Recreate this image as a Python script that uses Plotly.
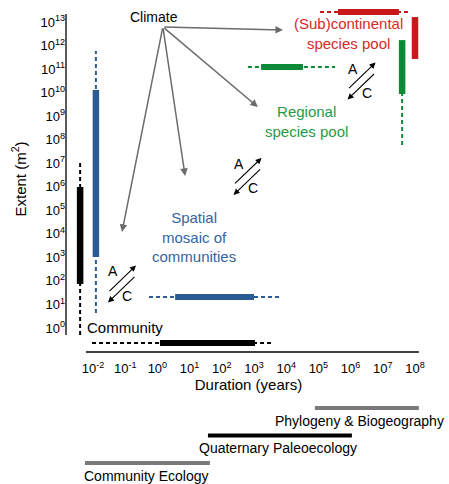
import plotly.graph_objects as go

# ---------------- data (log10 units) ----------------
# Vertical bars: spatial extent (log10 m^2) of each level, drawn at a duration position
levels = ["Community", "Spatial mosaic of communities", "Regional species pool", "(Sub)continental species pool"]
level_colors = ["#000000", "#2b5b95", "#0c8a35", "#c9171c"]
text_colors = ["#000000", "#3564a2", "#1f9c47", "#d42b27"]
ext_x = [-2.40, -1.91, 7.60, 8.00]
ext_dash_lo = [-0.30, 0.64, 7.77, 11.43]
ext_solid_lo = [1.87, 3.02, 9.94, 11.43]
ext_solid_hi = [5.99, 10.11, 12.23, 13.21]
ext_dash_hi = [7.09, 11.77, 12.23, 13.21]

# Horizontal bars: temporal duration (log10 years) of each level, drawn at an extent position
dur_y = [-0.64, 1.32, 11.09, 13.42]
dur_dash_lo = [-2.03, -0.26, 2.81, 5.05]
dur_solid_lo = [0.08, 0.55, 3.22, 5.61]
dur_solid_hi = [3.03, 3.00, 4.52, 7.50]
dur_dash_hi = [3.59, 3.87, 5.52, 7.84]

label_text = ["Community", "Spatial<br>mosaic of<br>communities", "Regional<br>species pool", "(Sub)continental<br>species pool"]
label_x = [-1.01, 1.14, 4.62, 5.92]
label_y = [0.04, 3.87, 8.79, 12.49]

# Climate arrows
climate_x, climate_y = -0.11, 13.21
climate_src = (0.17, 12.79)
climate_tx = [3.90, 3.12, 0.86, -1.10]
climate_ty = [12.66, 9.39, 6.46, 4.08]

# Assembly / Colonization (A / C) arrow pairs (centers)
ac_x = [-1.10, 2.80, 6.34]
ac_y = [1.87, 6.44, 10.49]

# Disciplines along the duration axis
disc_names = ["Community Ecology", "Quaternary Paleoecology", "Phylogeny & Biogeography"]
disc_start = [-2.25, 1.57, 4.89]
disc_end = [1.63, 6.04, 8.12]
disc_colors = ["#7a7a7a", "#000000", "#7a7a7a"]
disc_row = [0, 1, 2]
disc_label_x = [-0.35, 3.75, 6.29]

x_ticks = list(range(-2, 9))
y_ticks = list(range(0, 14))
x_ticktext = ["10<sup>%d</sup>" % v for v in x_ticks]
y_ticktext = ["10<sup>%d</sup>" % v for v in y_ticks]

FONT = "Liberation Sans, Arial, Helvetica, sans-serif"
DASH = "4px,3px"

fig = go.Figure()

# vertical extent bars
for i in range(len(levels)):
    fig.add_trace(go.Scatter(x=[ext_x[i], ext_x[i]], y=[ext_dash_lo[i], ext_dash_hi[i]],
                             mode="lines", line=dict(color=level_colors[i], width=2, dash=DASH),
                             hoverinfo="skip"))
    fig.add_trace(go.Scatter(x=[ext_x[i], ext_x[i]], y=[ext_solid_lo[i], ext_solid_hi[i]],
                             mode="lines", line=dict(color=level_colors[i], width=6.5),
                             name=levels[i]))
# horizontal duration bars
for i in range(len(levels)):
    fig.add_trace(go.Scatter(x=[dur_dash_lo[i], dur_dash_hi[i]], y=[dur_y[i], dur_y[i]],
                             mode="lines", line=dict(color=level_colors[i], width=2, dash=DASH),
                             hoverinfo="skip"))
    fig.add_trace(go.Scatter(x=[dur_solid_lo[i], dur_solid_hi[i]], y=[dur_y[i], dur_y[i]],
                             mode="lines", line=dict(color=level_colors[i], width=6),
                             name=levels[i]))

# discipline bars (secondary y axis below the main plot)
for i in range(len(disc_names)):
    fig.add_trace(go.Scatter(x=[disc_start[i], disc_end[i]], y=[disc_row[i], disc_row[i]],
                             yaxis="y2", mode="lines",
                             line=dict(color=disc_colors[i], width=4), name=disc_names[i]))

annotations = []
for i in range(len(levels)):
    annotations.append(dict(x=label_x[i], y=label_y[i], xref="x", yref="y", text=label_text[i],
                            showarrow=False, font=dict(family=FONT, size=15, color=text_colors[i]),
                            align="center"))
annotations.append(dict(x=climate_x, y=climate_y, xref="x", yref="y", text="Climate",
                        showarrow=False, font=dict(family=FONT, size=14, color="black")))
for tx, ty in zip(climate_tx, climate_ty):
    annotations.append(dict(x=tx, y=ty, ax=climate_src[0], ay=climate_src[1], xref="x", yref="y",
                            axref="x", ayref="y", text="", showarrow=True, arrowhead=2,
                            arrowsize=1, arrowwidth=1.5, arrowcolor="#6b6b6b"))

hx, hy, off = 0.435, 0.574, 0.212
for cx, cy in zip(ac_x, ac_y):
    annotations.append(dict(x=cx + hx, y=cy + off + hy, ax=cx - hx, ay=cy + off - hy,
                            xref="x", yref="y", axref="x", ayref="y", text="", showarrow=True,
                            arrowhead=2, arrowsize=1.1, arrowwidth=1.1, arrowcolor="black"))
    annotations.append(dict(x=cx - hx, y=cy - off - hy, ax=cx + hx, ay=cy - off + hy,
                            xref="x", yref="y", axref="x", ayref="y", text="", showarrow=True,
                            arrowhead=2, arrowsize=1.1, arrowwidth=1.1, arrowcolor="black"))
    annotations.append(dict(x=cx, y=cy, xref="x", yref="y", text="A", showarrow=False,
                            xshift=-9, yshift=12.5, font=dict(family=FONT, size=14, color="black")))
    annotations.append(dict(x=cx, y=cy, xref="x", yref="y", text="C", showarrow=False,
                            xshift=5, yshift=-12, font=dict(family=FONT, size=14, color="black")))

for i in range(len(disc_names)):
    annotations.append(dict(x=disc_label_x[i], y=disc_row[i], xref="x", yref="y2", text=disc_names[i],
                            showarrow=False, yshift=-13, font=dict(family=FONT, size=14, color="black")))

shapes = [
    dict(type="line", xref="paper", yref="y", x0=0, x1=0, y0=-0.30, y1=13.34,
         line=dict(color="black", width=1.3)),
    dict(type="line", xref="x", yref="paper", x0=-2.22, x1=8.12, y0=0.2762, y1=0.2762,
         line=dict(color="black", width=1.3)),
]

fig.update_layout(
    width=449, height=484,
    margin=dict(l=66, r=18, t=6, b=0, autoexpand=False),
    paper_bgcolor="white", plot_bgcolor="white",
    showlegend=False,
    font=dict(family=FONT, size=13, color="black"),
    xaxis=dict(range=[-2.8385, 8.4969], tickvals=x_ticks, ticktext=x_ticktext,
               showgrid=False, zeroline=False, showline=False, ticks="", automargin=False,
               anchor="y", tickfont=dict(size=13), ticklabelstandoff=7,
               title=dict(text="Duration (years)", font=dict(size=15), standoff=0)),
    yaxis=dict(range=[-1.0195, 13.679], domain=[0.2762, 1], tickvals=y_ticks, ticktext=y_ticktext,
               showgrid=False, zeroline=False, showline=False, ticks="", automargin=False,
               tickfont=dict(size=13),
               title=dict(text="Extent (m<sup>2</sup>)", font=dict(size=15), standoff=10)),
    yaxis2=dict(range=[-0.764, 4.036], domain=[0, 0.2762], visible=False, anchor="x",
                automargin=False),
    annotations=annotations,
    shapes=shapes,
)

fig.write_html("out.html", config={"displayModeBar": False},
               post_script="document.body.style.margin='0px';")
